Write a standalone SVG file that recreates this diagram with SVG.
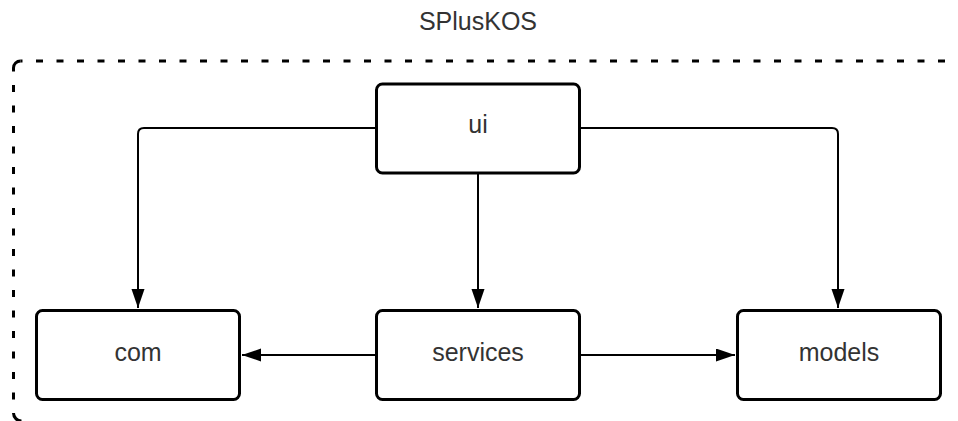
<svg xmlns="http://www.w3.org/2000/svg" width="958" height="421" viewBox="0 0 958 421">
  <style>
    .node rect { fill: #ffffff; stroke: #000000; stroke-width: 3; }
    .label { font-family: "Liberation Sans", Arial, sans-serif; font-size: 25px; fill: #333333; text-anchor: middle; }
    .edge { fill: none; stroke: #000000; stroke-width: 2; marker-end: url(#arrow); }
    .frame { fill: none; stroke: #000000; stroke-width: 3; }
    .dash { stroke-dasharray: 7 13.5; }
  </style>
  <defs>
    <marker id="arrow" markerUnits="userSpaceOnUse" markerWidth="20" markerHeight="14" refX="19" refY="6.5" orient="auto">
      <path d="M0,0 L19,6.5 L0,13 Z" fill="#000000"/>
    </marker>
  </defs>
  <rect width="958" height="421" fill="#ffffff"/>

  <!-- package frame (runs past the right and bottom edges) -->
  <g id="package">
    <path class="frame" d="M13.5,68 A7,7 0 0 1 20.5,61"/>
    <path class="frame dash" stroke-dashoffset="5" d="M20.5,61 H960"/>
    <path class="frame dash" stroke-dashoffset="3.5" d="M13.5,68 V413"/>
    <path class="frame" d="M13.5,413 A8,8 0 0 0 21.5,421"/>
    <text class="label" x="478" y="30">SPlusKOS</text>
  </g>

  <!-- connectors -->
  <g id="connectors">
    <path class="edge" d="M376,128 H144 Q138,128 138,134 V308"/>
    <path class="edge" d="M478,174 V308"/>
    <path class="edge" d="M580,128 H832 Q838,128 838,134 V308"/>
    <path class="edge" d="M376,355 H242"/>
    <path class="edge" d="M580,355 H735"/>
  </g>

  <g id="ui" class="node">
    <rect x="376.5" y="84" width="203" height="89" rx="6"/>
    <text class="label" x="478" y="133">ui</text>
  </g>
  <g id="com" class="node">
    <rect x="36.5" y="310.5" width="203" height="89" rx="6"/>
    <text class="label" x="138" y="361">com</text>
  </g>
  <g id="services" class="node">
    <rect x="376.5" y="310.5" width="203" height="89" rx="6"/>
    <text class="label" x="478" y="361">services</text>
  </g>
  <g id="models" class="node">
    <rect x="737.5" y="310.5" width="203" height="89" rx="6"/>
    <text class="label" x="839" y="361">models</text>
  </g>
</svg>
